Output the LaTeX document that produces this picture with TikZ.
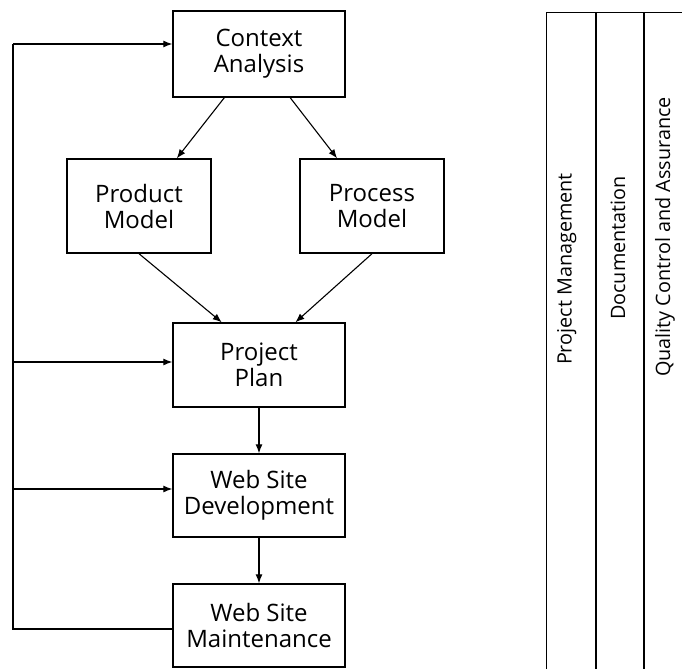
\documentclass[tikz,border=0pt]{standalone}
\usepackage{fontspec}
\setmainfont{Open Sans}
\usetikzlibrary{arrows.meta,calc}

\tikzset{
  stage/.style={draw, line width=1.4pt, minimum width=172pt, minimum height=84pt,
    inner sep=0pt, align=center, font=\fontsize{24}{26}\selectfont},
  model/.style={stage, minimum width=144pt, minimum height=94pt},
  flow/.style={-{Latex[length=9pt,width=7pt]}, line width=1.1pt},
  lane/.style={rotate=90, font=\fontsize{19.8}{22}\selectfont}
}

\begin{document}
\begin{tikzpicture}[x=1pt,y=-1pt]
    \useasboundingbox (0,0) rectangle (682,669);
    % phases
    \node[stage, minimum height=86pt] (ctx) at (259,54) {Context\\Analysis};
    \node[model] (prod) at (139,206) {Product\\Model};
    \node[model] (proc) at (372,206) {Process\\Model};
    \node[stage] (plan) at (259,365) {Project\\Plan};
    \node[stage, minimum height=83pt] (dev) at (259,495.5) {Web Site\\Development};
    \node[stage, minimum height=83pt] (maint) at (259,625.5) {Web Site\\Maintenance};
    \draw[flow] ($(ctx.south west)!0.3!(ctx.south east)$) -- ($(prod.north west)!0.76!(prod.north east)$);
    \draw[flow] ($(ctx.south west)!0.68!(ctx.south east)$) -- ($(proc.north west)!0.26!(proc.north east)$);
    \draw[flow] (prod.south) -- ($(plan.north west)!0.285!(plan.north east)$);
    \draw[flow] (proc.south) -- ($(plan.north west)!0.71!(plan.north east)$);
    \draw[flow] (plan) -- (dev);
    \draw[flow] (dev) -- (maint);
    % feedback loop
    \coordinate (top) at (13,44);
    \coordinate (mid) at (13,362);
    \coordinate (low) at (13,489);
    \coordinate (bot) at (13,629);
    \draw[line width=1.1pt] (maint.west |- bot) -- (bot) -- (top);
    \draw[flow] (top) -- (ctx.west |- top);
    \draw[flow] (mid) -- (plan.west |- mid);
    \draw[flow] (low) -- (dev.west |- low);
    % umbrella activities
    \draw[line width=1.1pt] (546.7,669) -- (546.7,12.7) -- (682,12.7);
    \draw[line width=2pt] (596,12.7) -- (596,669);
    \draw[line width=2pt] (644,12.7) -- (644,669);
    \node[lane] (pm) at (566.7,269) {Project Management};
    \node[lane] (doc) at (618,248) {Documentation};
    \node[lane] (qa) at (665,237) {Quality Control and Assurance};
\end{tikzpicture}
\end{document}
